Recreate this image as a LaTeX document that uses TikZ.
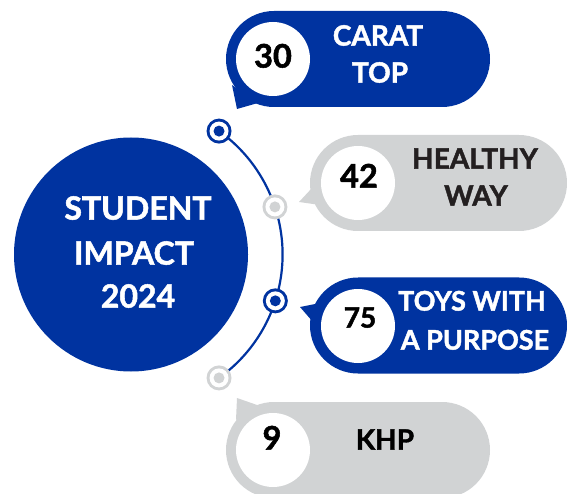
\documentclass[tikz,border=0pt]{standalone}
\usepackage{fontspec}
\setmainfont{Lato}[BoldFeatures={FakeBold=1.6}]
\usetikzlibrary{shapes.misc,calc}
\definecolor{ibl}{HTML}{0033A0}
\definecolor{igr}{HTML}{D1D3D4}
\definecolor{itx}{HTML}{231F20}
\tikzset{
  pill/.style={rounded rectangle, inner sep=0pt, minimum height=96pt},
  numdisk/.style={circle, fill=white, inner sep=0pt, minimum size=74pt},
  lbl/.style={inner sep=0pt, text height=0.72em, text depth=0pt, font=\bfseries\fontsize{28}{30}\selectfont},
  bigl/.style={lbl, text=white, font=\bfseries\fontsize{32}{34}\selectfont},
  numl/.style={lbl, text=black, font=\bfseries\fontsize{32.5}{34}\selectfont},
  dotout/.style={circle, inner sep=0pt, minimum size=25pt},
}
\begin{document}
\begin{tikzpicture}[x=1pt,y=1pt]
\useasboundingbox (0,0) rectangle (567,493);
% central circle
\node[circle, fill=ibl, minimum size=234pt, inner sep=0pt] (hub) at (131,238.5) {};
\node[bigl] (h1) at (138,277) {STUDENT};
\node[bigl] (h2) at (134,232) {IMPACT};
\node[bigl] (h3) at (138,189) {2024};
% arc
\coordinate (ac) at (131,238.5);
\draw[ibl, line width=2.2pt] (ac) ++(54.5:151.6) arc[start angle=54.5, end angle=-54.5, radius=151.6];
% dots
\node[dotout, fill=ibl] (d1) at ($(ac)+(54.5:151.6)$) {};
\node[dotout, fill=igr] (d2) at ($(ac)+(18.3:151.6)$) {};
\node[dotout, fill=ibl] (d3) at ($(ac)+(-17.8:151.6)$) {};
\node[dotout, fill=igr] (d4) at ($(ac)+(-54.5:151.6)$) {};
\foreach \d/\c in {d1/ibl,d2/igr,d3/ibl,d4/igr}{
  \fill[white] (\d) circle (9.5);
  \fill[\c] (\d) circle (5.5);
}
% bubble 1
\fill[ibl] (232,408) -- (237,384) -- (258,390) -- cycle;
\node[pill, fill=ibl, minimum width=264pt] (b1) at (358,434) {};
\node[numdisk] (n1) at (273,434) {};
\node[numl] (v1) at (273,429) {30};
\node[lbl, text=white] (t1a) at (378,451) {CARAT};
\node[lbl, text=white] (t1b) at (380,414) {TOP};
% bubble 2
\fill[igr] (312,305) -- (299,291) -- (320,288) -- cycle;
\node[pill, fill=igr, minimum width=257pt] (b2) at (438.5,310) {};
\node[numdisk] (n2) at (358,310) {};
\node[numl] (v2) at (359,309) {42};
\node[lbl, text=itx] (t2a) at (475,328) {HEALTHY};
\node[lbl, text=itx] (t2b) at (476,291) {WAY};
% bubble 3
\fill[ibl] (320,190) -- (300,186) -- (313,171) -- cycle;
\node[pill, fill=ibl, minimum width=257pt] (b3) at (438.5,167.5) {};
\node[numdisk] (n3) at (358,167) {};
\node[lbl, text=black, font=\bfseries\fontsize{28}{30}\selectfont] (v3) at (360,169) {75};
\node[lbl, text=white, font=\bfseries\fontsize{27}{29}\selectfont] (t3a) at (472,186) {TOYS WITH};
\node[lbl, text=white, font=\bfseries\fontsize{27}{29}\selectfont] (t3b) at (475,147) {A PURPOSE};
% bubble 4
\fill[igr] (237,95) -- (260,87) -- (236,73) -- cycle;
\node[pill, fill=igr, minimum width=264pt] (b4) at (358,43) {};
\node[numdisk] (n4) at (273,43) {};
\node[numl] (v4) at (272,47) {9};
\node[lbl, text=black] (t4) at (385,47) {KHP};
\end{tikzpicture}
\end{document}
